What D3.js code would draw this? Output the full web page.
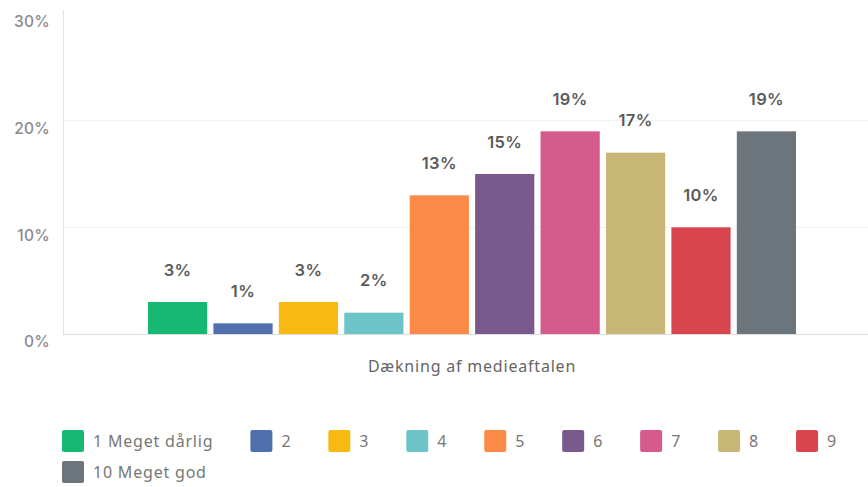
<!DOCTYPE html>
<html>
<head>
<meta charset="utf-8">
<script src="https://cdn.jsdelivr.net/npm/d3@7"></script>
<style>
  html, body { margin: 0; padding: 0; background: #ffffff; }
  svg { display: block; }
</style>
</head>
<body>
<div id="chart"></div>
<script>
// Survey result: rating distribution for one question
const category = "Dækning af medieaftalen";
const ratings = ["1 Meget dårlig", "2", "3", "4", "5", "6", "7", "8", "9", "10 Meget god"];
const shares = [3, 1, 3, 2, 13, 15, 19, 17, 10, 19];
const palette = ["#17b873", "#4f70ad", "#f8b913", "#6cc4c9", "#fc8a47", "#7a5a8d",
                 "#d55b8c", "#c8b677", "#d9454f", "#6c757b"];
const yTicks = [0, 10, 20, 30];

const W = 868, H = 487;
const svg = d3.select("#chart").append("svg").attr("width", W).attr("height", H);

const axisX = 63, baseY = 334, topY = 14;

const y = d3.scaleLinear().domain([0, 30]).range([baseY, topY]);
const x0 = d3.scaleBand().domain([category]).range([64, 880])
  .paddingInner(0).paddingOuter(0.1296);
const x1 = d3.scaleBand().domain(ratings).range([0, x0.bandwidth()])
  .paddingInner(0.095).paddingOuter(0);
const color = d3.scaleOrdinal().domain(ratings).range(palette);

// gridlines
svg.append("g").selectAll("line")
  .data(yTicks.filter(t => t > 0 && t < 30))
  .join("line")
  .attr("x1", axisX).attr("x2", W)
  .attr("y1", d => y(d)).attr("y2", d => y(d))
  .attr("stroke", "#efefef").attr("stroke-width", 1);

// y axis
const yAxis = svg.append("g")
  .attr("transform", `translate(${axisX},0)`)
  .call(d3.axisLeft(y).tickValues(yTicks).tickSize(0).tickPadding(13).tickFormat(d => d + "%"));
yAxis.select(".domain").remove();
yAxis.selectAll("text")
  .attr("dy", "0.32em")
  .attr("transform", "translate(0,8)")
  .attr("fill", "#8a8a8a")
  .style("font-family", "Inter, 'Open Sans', sans-serif")
  .style("font-size", "15.5px")
  .style("font-weight", "500")
  .style("letter-spacing", "0.3px");

svg.append("line")
  .attr("x1", axisX + 0.5).attr("x2", axisX + 0.5)
  .attr("y1", y(30) - 4).attr("y2", baseY)
  .attr("stroke", "#e2e2e2");

// bars
const g = svg.append("g").attr("transform", `translate(${x0(category)},0)`);
g.selectAll("rect")
  .data(ratings.map((r, i) => ({ r, v: shares[i] })))
  .join("rect")
  .attr("x", d => x1(d.r))
  .attr("width", x1.bandwidth())
  .attr("y", d => y(d.v))
  .attr("height", d => baseY - y(d.v))
  .attr("fill", d => color(d.r));

g.selectAll("text.val")
  .data(ratings.map((r, i) => ({ r, v: shares[i] })))
  .join("text")
  .attr("class", "val")
  .attr("x", d => x1(d.r) + x1.bandwidth() / 2)
  .attr("y", d => y(d.v) - 32)
  .attr("dy", "0.35em")
  .attr("text-anchor", "middle")
  .attr("fill", "#5a5a5a")
  .style("font-family", "Inter, 'Open Sans', sans-serif")
  .style("font-size", "16.5px")
  .style("font-weight", "600")
  .style("letter-spacing", "0.4px")
  .text(d => d.v + "%");

// baseline
svg.append("line")
  .attr("x1", axisX).attr("x2", W)
  .attr("y1", baseY + 0.5).attr("y2", baseY + 0.5)
  .attr("stroke", "#dcdcdc");

// category label
svg.append("text")
  .attr("x", x0(category) + x0.bandwidth() / 2)
  .attr("y", 366)
  .attr("dy", "0.35em")
  .attr("text-anchor", "middle")
  .attr("fill", "#666")
  .style("font-family", "'Noto Sans', 'Open Sans', sans-serif")
  .style("font-size", "16px")
  .style("letter-spacing", "0.8px")
  .text(category);

// legend (flowing, wraps to a second row)
const legend = svg.append("g");
const sw = 22, gapText = 9, gapItem = 37, rowH = 31, startX = 62, maxX = 840;
let lx = startX, ly = 441;
ratings.forEach((r, i) => {
  const item = legend.append("g");
  const t = item.append("text")
    .attr("x", sw + gapText).attr("y", 0).attr("dy", "0.35em")
    .attr("fill", "#777")
    .style("font-family", "'Noto Sans', 'Open Sans', sans-serif")
    .style("font-size", "16px")
    .style("letter-spacing", "0.8px")
    .text(r);
  const tw = t.node().getComputedTextLength();
  const w = sw + gapText + tw;
  if (lx + w > maxX) { lx = startX; ly += rowH; }
  item.attr("transform", `translate(${lx},${ly})`);
  item.insert("rect", "text")
    .attr("x", 0).attr("y", -sw / 2)
    .attr("width", sw).attr("height", sw)
    .attr("rx", 2)
    .attr("fill", color(r));
  lx += w + gapItem;
});
</script>
</body>
</html>
